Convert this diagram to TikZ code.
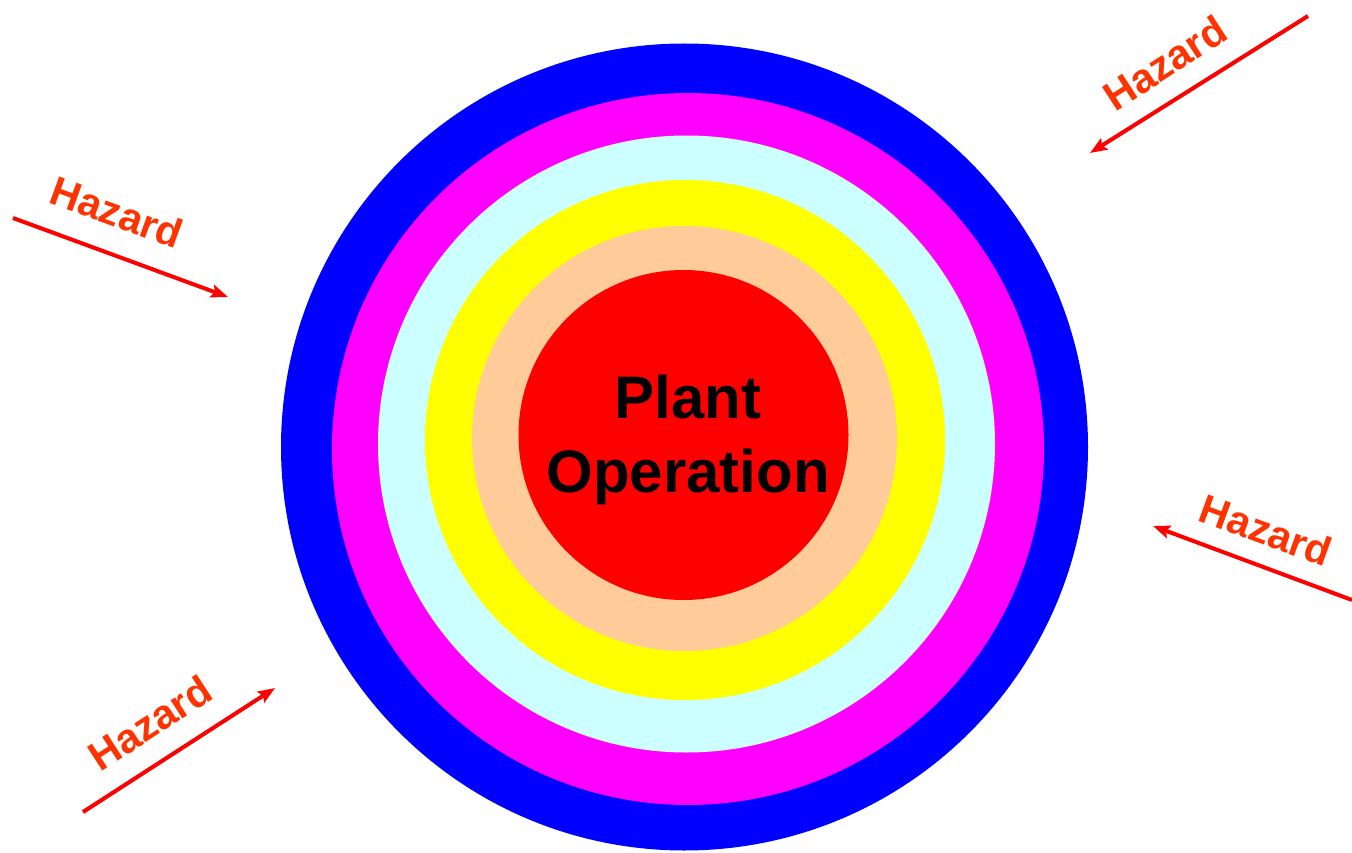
\documentclass[tikz,border=0pt]{standalone}
\usepackage{fontspec}
\setmainfont{Liberation Sans}
\usetikzlibrary{arrows.meta}

\definecolor{ringblue}{HTML}{0000FF}
\definecolor{ringmagenta}{HTML}{FF00FF}
\definecolor{ringcyan}{HTML}{CCFFFF}
\definecolor{ringyellow}{HTML}{FFFF00}
\definecolor{ringpeach}{HTML}{FFCC99}
\definecolor{ringred}{HTML}{FF0000}
\definecolor{hazardtext}{HTML}{FF3300}

\newcommand*{\picw}{1352}
\newcommand*{\pich}{853}

\begin{document}
\begin{tikzpicture}[x=1pt,y=-1pt,
	hazard/.style={font=\bfseries\fontsize{41}{41}\selectfont,text=hazardtext,inner sep=0pt},
	hazardarrow/.style={draw=ringred,line width=4pt,-{Stealth[length=17pt,width=13pt,inset=3pt]}}]

	\useasboundingbox (0,0) rectangle (\picw,\pich);

	% rings, outside in
	\fill[ringblue]    (684.5,447)   circle[radius=403.5pt];
	\fill[ringmagenta] (688,449)     circle[radius=356pt];
	\fill[ringcyan]    (686.5,444)   circle[radius=308.5pt];
	\fill[ringyellow]  (685,440)     circle[radius=260pt];
	\fill[ringpeach]   (684.5,438.5) circle[radius=212.5pt];
	\fill[ringred]     (683.5,435)   circle[radius=165pt];

	\node[font=\bfseries\fontsize{60}{74}\selectfont,align=center,inner sep=0pt] (plant) at (688,440) {Plant\\Operation};

	% hazards
	\coordinate (ne0) at (1308,16);  \coordinate (ne1) at (1090,153);
	\coordinate (nw0) at (13,218);   \coordinate (nw1) at (228,297);
	\coordinate (e0)  at (1352,600); \coordinate (e1)  at (1153,526);
	\coordinate (sw0) at (83,812);   \coordinate (sw1) at (275,688);

	\draw[hazardarrow] (ne0) -- (ne1);
	\draw[hazardarrow] (nw0) -- (nw1);
	\draw[hazardarrow] (e0) -- (e1);
	\draw[hazardarrow] (sw0) -- (sw1);

	\node[hazard,rotate=33]  (hazne) at (1165,63)  {Hazard};
	\node[hazard,rotate=-20] (haznw) at (117,212)  {Hazard};
	\node[hazard,rotate=-20] (haze)  at (1266,530) {Hazard};
	\node[hazard,rotate=33]  (hazsw) at (150,723)  {Hazard};

\end{tikzpicture}
\end{document}
